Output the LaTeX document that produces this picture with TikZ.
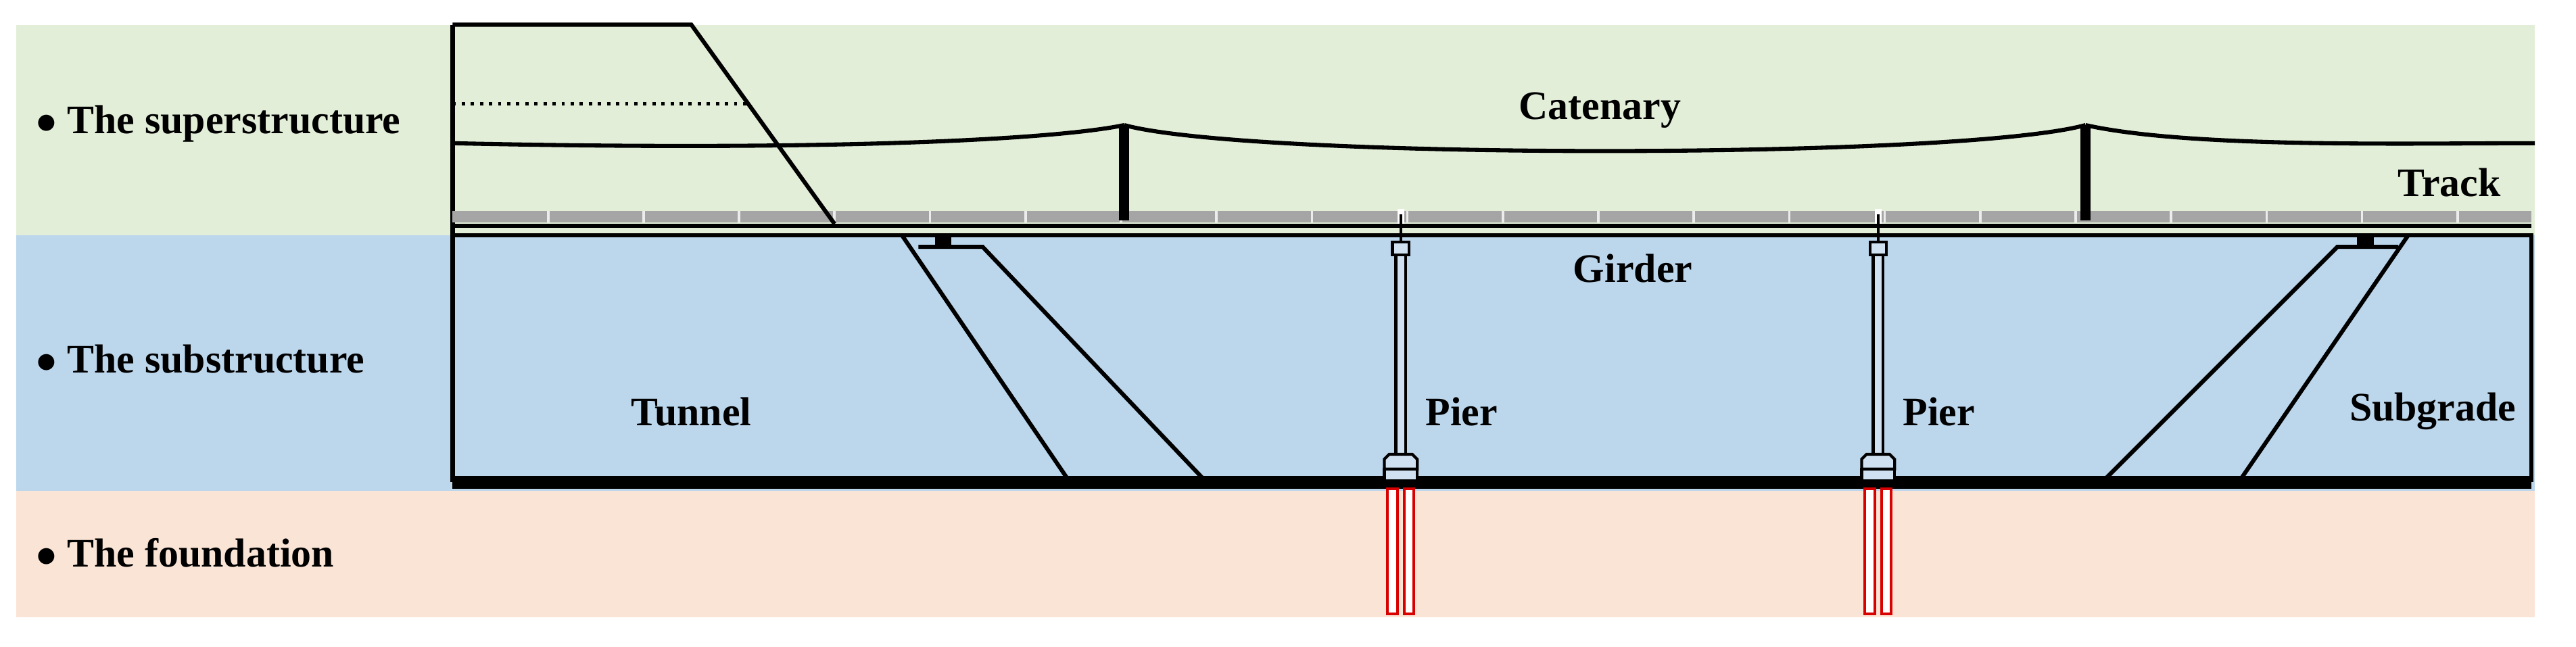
\documentclass[tikz,border=0pt]{standalone}
\usepackage{fontspec}
\setmainfont{Liberation Serif}
\usetikzlibrary{positioning}
\definecolor{supergreen}{RGB}{226,238,216}
\definecolor{subblue}{RGB}{188,214,236}
\definecolor{foundpeach}{RGB}{250,228,214}
\definecolor{trackgray}{RGB}{165,165,165}
\tikzset{
  lbl/.style={font=\fontsize{14}{16}\selectfont\bfseries, inner sep=1pt},
  edge/.style={line width=0.5mm, black},
  pile/.style={draw=red!85!black, line width=0.35mm, fill=white},
}
\begin{document}
\begin{tikzpicture}[x=0.02cm, y=-0.02cm]
      \useasboundingbox (0,0) rectangle (1565,393);

      % bands
      \fill [supergreen] (10,15) rectangle (1540,143);
      \fill [subblue] (10,143) rectangle (1540,298);
      \fill [foundpeach] (10,298) rectangle (1540,375);

      \node[lbl, anchor=west] (sup) at (20,75) {$\bullet$ The superstructure};
      \node[lbl, anchor=west] (sub) at (20,218) {$\bullet$ The substructure};
      \node[lbl, anchor=west] (fnd) at (20,336) {$\bullet$ The foundation};

      % frame of the substructure
      \draw [edge] (275,143) -- (1538,143) -- (1538,293);
      \draw [edge] (275,15) -- (275,293);
      \draw [line width=1.6mm] (275,293) -- (1538,293);

      % track
      \fill [trackgray] (275,128) rectangle (1538,135);
      \foreach \x in {333,391,...,1538} \draw [white!85!gray, line width=0.3mm] (\x,128) -- (\x,135);
      \draw [edge] (275,137) -- (1538,137);

      % tunnel portal
      \draw [edge] (275,15) -- (420,15) -- (507,136);
      \draw [line width=0.4mm, dotted] (275,63) -- (455,63);
      \draw [edge] (548,143) -- (650,293);
      \draw [edge] (558,150) -- (597,150) -- (733,293);
      \fill (568,143) rectangle (578,150);

      % subgrade slope
      \draw [edge] (1277,293) -- (1420,150) -- (1457,150);
      \draw [edge] (1360,293) -- (1463,143);
      \fill (1432,143) rectangle (1442,150);

      % catenary
      \draw [edge] (275,87) .. controls (500,92) and (640,85) .. (683,76);
      \draw [edge] (683,76) .. controls (760,97) and (1190,97) .. (1267,76);
      \draw [edge] (1267,76) .. controls (1330,90) and (1460,87) .. (1540,87);
      \foreach \x in {683,1267} \draw [line width=1.2mm] (\x,76) -- (\x,134);

      % piers and piles
      \foreach \x/\n in {851/a,1141/b} {
        \fill [white] (\x-2,127) rectangle (\x+2,136);
        \draw [line width=0.3mm] (\x,130) -- (\x,147);
        \draw [line width=0.35mm, fill=subblue!70!white] (\x-5,147) rectangle (\x+5,155);
        \draw [line width=0.35mm, fill=subblue!70!white] (\x-3,155) rectangle (\x+3,277);
        \draw [line width=0.35mm, fill=subblue!70!white] (\x-10,285) -- (\x-10,279) -- (\x-7,276) -- (\x+7,276) -- (\x+10,279) -- (\x+10,285) -- cycle;
        \draw [line width=0.35mm, fill=subblue!70!white] (\x-10,285) rectangle (\x+10,292);
        \draw [pile] (\x-8,297) rectangle (\x-2,373);
        \draw [pile] (\x+2,297) rectangle (\x+8,373);
        \node[lbl, anchor=west] (pier\n) at (\x+13,250) {Pier};
      }

      \node[lbl] (catenary) at (972,67) {Catenary};
      \node[lbl] (track) at (1488,111) {Track};
      \node[lbl] (girder) at (992,163) {Girder};
      \node[lbl] (tunnel) at (420,250) {Tunnel};
      \node[lbl] (subgrade) at (1478,250) {Subgrade};
\end{tikzpicture}
\end{document}
